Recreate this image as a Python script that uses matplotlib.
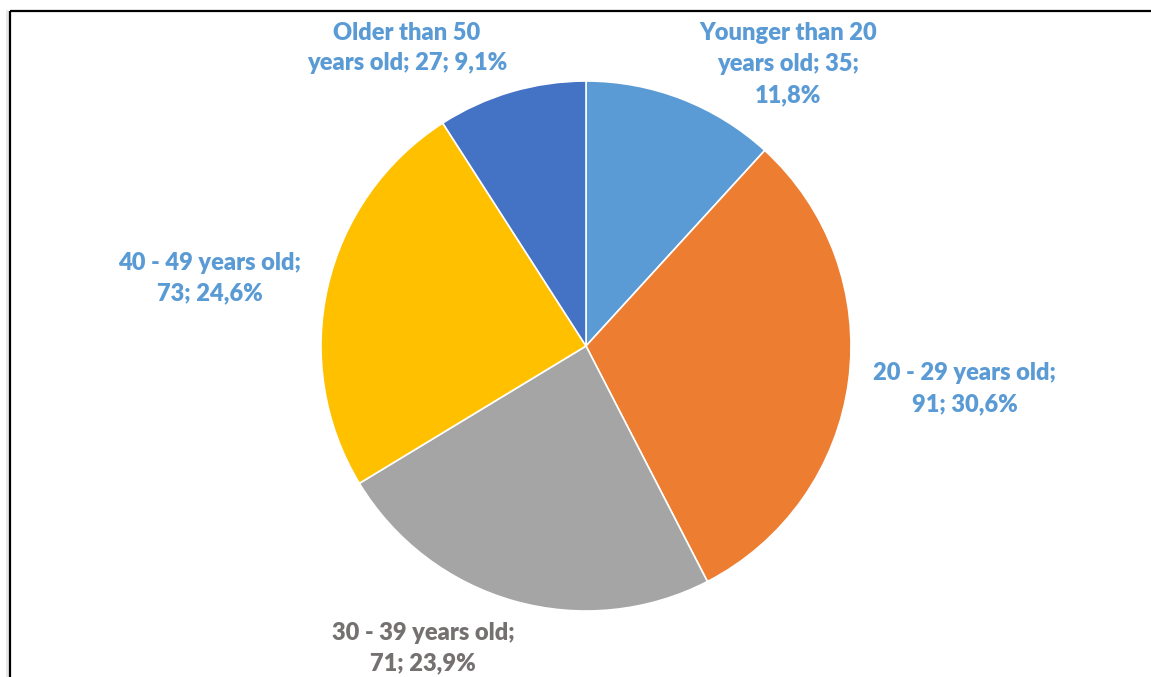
import matplotlib
matplotlib.use("Agg")
import matplotlib.pyplot as plt
from matplotlib.lines import Line2D

categories = ["Younger than 20\nyears old", "20 - 29 years old", "30 - 39 years old",
              "40 - 49 years old", "Older than 50\nyears old"]
values = [35, 91, 71, 73, 27]
percents = ["11,8%", "30,6%", "23,9%", "24,6%", "9,1%"]
colors = ["#5B9BD5", "#ED7D31", "#A5A5A5", "#FFC000", "#4472C4"]

label_texts = [
    "Younger than 20\nyears old; 35;\n11,8%",
    "20 - 29 years old;\n91; 30,6%",
    "30 - 39 years old;\n71; 23,9%",
    "40 - 49 years old;\n73; 24,6%",
    "Older than 50\nyears old; 27; 9,1%",
]
label_pos = [(788, 64), (965, 389), (423, 648), (210, 278), (407, 48)]
label_colors = ["#5B9BD5", "#5B9BD5", "#767171", "#5B9BD5", "#5B9BD5"]

W, H = 1151, 677
fig = plt.figure(figsize=(W / 100, H / 100), dpi=100)
ax = fig.add_axes([0, 0, 1, 1])
ax.set_xlim(0, W)
ax.set_ylim(0, H)
ax.axis("off")

ax.pie(values, colors=colors, startangle=90, counterclock=False,
       center=(586, H - 346), radius=265,
       wedgeprops=dict(edgecolor="white", linewidth=1.2))
ax.set_xlim(0, W)
ax.set_ylim(0, H)
ax.set_aspect("equal")

for txt, (x, y), c in zip(label_texts, label_pos, label_colors):
    ax.text(x, H - y, txt, ha="center", va="center", color=c,
            fontsize=17, fontweight="heavy", family=["Lato", "DejaVu Sans"],
            linespacing=1.5)

# frame (only top and left edges visible)
ax.add_line(Line2D([7.5, 7.5], [0, H - 11], color="#E6E6E6", linewidth=2))
ax.add_line(Line2D([10, W], [H - 10.5, H - 10.5], color="black", linewidth=1.6,
                   solid_capstyle="butt"))
ax.add_line(Line2D([10, 10], [0, H - 10.5], color="black", linewidth=1.6,
                   solid_capstyle="butt"))

fig.savefig("out.png", dpi=100)
